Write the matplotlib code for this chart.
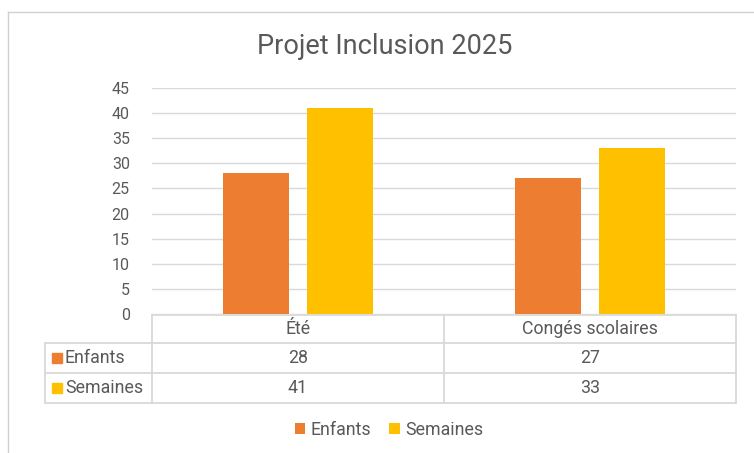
import matplotlib.pyplot as plt
from matplotlib.lines import Line2D
from matplotlib.patches import Rectangle
import numpy as np

plt.rcParams['font.family'] = ['Roboto', 'DejaVu Sans']

categories = ['Été', 'Congés scolaires']
series = ['Enfants', 'Semaines']
enfants = [28, 27]
semaines = [41, 33]
colors = ['#ED7D31', '#FFC000']
yticks = [0, 5, 10, 15, 20, 25, 30, 35, 40, 45]

W, H = 754, 453
TXT = '#595959'
GRID = '#D9D9D9'

fig = plt.figure(figsize=(W / 100, H / 100), dpi=100)


def fx(x):
    return x / W


def fy(y):
    return 1 - y / H


# chart border (partially visible in the screenshot)
fig.add_artist(Line2D([fx(8), fx(8)], [fy(12), fy(453)], color='#D0D0D0', lw=1))
fig.add_artist(Line2D([fx(8), fx(754)], [fy(12), fy(12)], color='#D0D0D0', lw=1))

# plot area
left, right, top, bottom = 152, 736, 88, 314
ax = fig.add_axes([fx(left), fy(bottom), fx(right - left), (bottom - top) / H])
x = np.arange(len(categories))
w = 0.226
off = 0.143
vals = [enfants, semaines]
for i, s in enumerate(series):
    ax.bar(x + (i * 2 - 1) * off, vals[i], width=w, color=colors[i], zorder=3, label=s)
ax.set_xlim(-0.5, len(categories) - 0.5)
ax.set_ylim(0, 45)
ax.set_yticks(yticks)
ax.yaxis.grid(True, color=GRID, lw=1)
ax.set_axisbelow(True)
for sp in ax.spines.values():
    sp.set_visible(False)
ax.tick_params(axis='y', length=0, pad=16, labelsize=11.5, labelcolor=TXT)
ax.set_xticks([])

fig.text(fx(385), fy(46), 'Projet Inclusion 2025', ha='center', va='center',
         fontsize=19.5, color=TXT)

# data table
col_x = [45, 152, 444, 736]
row_y = [315, 343, 373, 403]
lc = GRID
fs = 12.8
# horizontal lines
fig.add_artist(Line2D([fx(152), fx(736)], [fy(315), fy(315)], color=lc, lw=1.3))
for yy in row_y[1:]:
    fig.add_artist(Line2D([fx(45), fx(736)], [fy(yy), fy(yy)], color=lc, lw=1.3))
# vertical lines
fig.add_artist(Line2D([fx(45), fx(45)], [fy(343), fy(403)], color=lc, lw=1.3))
for xx in col_x[1:]:
    fig.add_artist(Line2D([fx(xx), fx(xx)], [fy(315), fy(403)], color=lc, lw=1.3))

for j, c in enumerate(categories):
    cx = (col_x[j + 1] + col_x[j + 2]) / 2
    fig.text(fx(cx), fy(329), c, ha='center', va='center', fontsize=fs, color=TXT)
for i, s in enumerate(series):
    cy = (row_y[i + 1] + row_y[i + 2]) / 2
    fig.add_artist(Rectangle((fx(52), fy(cy + 5)), fx(10), 10 / H, color=colors[i]))
    fig.text(fx(65), fy(cy), s, ha='left', va='center', fontsize=fs, color=TXT)
    for j in range(len(categories)):
        cx = (col_x[j + 1] + col_x[j + 2]) / 2
        fig.text(fx(cx), fy(cy), str(vals[i][j]), ha='center', va='center',
                 fontsize=fs, color=TXT)

# legend
fig.legend(loc='center', bbox_to_anchor=(fx(389), fy(430)), ncol=2, frameon=False,
           fontsize=fs, labelcolor=TXT, handlelength=0.6, handleheight=0.6,
           handletextpad=0.3, columnspacing=1.0)

fig.savefig('out.png', dpi=100)
